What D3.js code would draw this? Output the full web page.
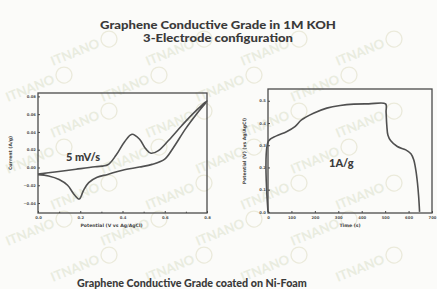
<!DOCTYPE html>
<html>
<head>
<meta charset="utf-8">
<script src="https://cdn.jsdelivr.net/npm/d3@7"></script>
<style>
    body { margin: 0; background: #fbfbf9; }
    svg { display: block; }
</style>
</head>
<body>
<div id="chart"></div>
<script>
/* Chart data. */
const cvPotential = [0.0, 0.08, 0.18, 0.27, 0.33, 0.37, 0.41, 0.445, 0.48, 0.51, 0.535, 0.57, 0.62, 0.68, 0.74, 0.8,
    0.76, 0.7, 0.64, 0.6, 0.54, 0.48, 0.4, 0.33, 0.28, 0.24, 0.215, 0.195, 0.17, 0.14, 0.1, 0.05, 0.0];
const cvCurrent = [-0.0075, -0.005, -0.002, 0.0008, 0.003, 0.014, 0.029, 0.0374, 0.032, 0.021, 0.016, 0.019, 0.031, 0.047, 0.062, 0.0748,
    0.063, 0.044, 0.022, 0.0095, 0.0035, 0.0005, -0.003, -0.0078, -0.011, -0.017, -0.026, -0.0355, -0.03, -0.02, -0.0135, -0.0095, -0.008];
const gcdTime = [0, 2, 36, 79, 115, 143, 194, 251, 308, 366, 430, 502, 504, 507, 512, 524, 552, 588, 610, 622, 631, 638, 643, 647];
const gcdVolt = [0.0, 0.319, 0.342, 0.361, 0.384, 0.414, 0.444, 0.467, 0.479, 0.485, 0.486, 0.486, 0.45, 0.39, 0.345, 0.32, 0.294, 0.279, 0.262, 0.235, 0.188, 0.13, 0.07, 0.0];

const cvTicksX = [0.0, 0.2, 0.4, 0.6, 0.8];
const cvMinorX = [0.1, 0.3, 0.5, 0.7];
const cvTicksY = [-0.04, -0.02, 0.00, 0.02, 0.04, 0.06, 0.08];
const gcdTicksX = [0, 100, 200, 300, 400, 500, 600, 700];
const gcdMinorX = [];
const gcdTicksY = [0.0, 0.1, 0.2, 0.3, 0.4, 0.5];

const titleLines = ['Graphene Conductive Grade in 1M KOH', '3-Electrode configuration', 'Graphene Conductive Grade coated on Ni-Foam'];

const W = 437, H = 289;
const ink = '#4a4a4a';

const svg = d3.select('#chart').append('svg')
    .attr('width', W)
    .attr('height', H);

svg.append('rect').attr('width', W).attr('height', H).attr('fill', '#fbfbf9');

// Watermark grid, only the marks that sit fully inside the picture.
const wm = svg.append('g').attr('fill', '#e9ecdf').attr('font-family', 'Lato, sans-serif')
    .attr('font-weight', 700).attr('font-size', 13);
for (let r = 0; r < 8; r++) {
    for (let c = 0; c < 6; c++) {
        const cx = c * 95 + (r % 2 ? 45 : 0) + 8;
        const cy = r * 36 + 30;
        const g = wm.append('g').attr('transform', 'translate(' + cx + ',' + cy + ') rotate(-22)');
        g.append('text').text('ITNANO');
        g.append('circle').attr('cx', 62).attr('cy', -4).attr('r', 8)
            .attr('fill', 'none').attr('stroke', '#ebeadb').attr('stroke-width', 1.3);
        const b = g.node().getBoundingClientRect();
        if (b.left < 1 || b.top < 1 || b.right > W - 1 || b.bottom > H - 1) g.remove();
    }
}

// Titles, stretched sideways to the width of the wide original face.
const titlePos = [{x: 218, y: 28.5, w: 236}, {x: 218, y: 42, w: 150}, {x: 192, y: 287, w: 230}];
const titles = svg.append('g').attr('font-family', 'Lato, sans-serif').attr('font-weight', 900)
    .attr('fill', '#3a3a3a').attr('text-anchor', 'middle').attr('font-size', 11);
titleLines.forEach(function (line, i) {
    const t = titles.append('text').text(line);
    const k = titlePos[i].w / t.node().getComputedTextLength();
    t.attr('transform', 'translate(' + titlePos[i].x + ',' + titlePos[i].y + ') scale(' + k + ',1)');
});

function panel(opts) {
    const g = svg.append('g');
    const x = d3.scaleLinear().domain(opts.xDomain).range([opts.left, opts.right]);
    const y = d3.scaleLinear().domain(opts.yDomain).range([opts.bottom, opts.top]);

    // Axes.
    const xAxis = g.append('g').attr('transform', 'translate(0,' + opts.bottom + ')')
        .call(d3.axisBottom(x).tickValues(opts.xTicks).tickSize(-2).tickFormat(opts.xFormat));
    const xMinor = g.append('g').attr('transform', 'translate(0,' + opts.bottom + ')')
        .call(d3.axisBottom(x).tickValues(opts.xMinor).tickSize(-1.3).tickFormat(''));
    const yAxis = g.append('g').attr('transform', 'translate(' + opts.left + ',0)')
        .call(d3.axisLeft(y).tickValues(opts.yTicks).tickSize(-2).tickFormat(opts.yFormat));
    for (const a of [xAxis, xMinor, yAxis]) {
        a.select('.domain').remove();
        a.selectAll('line').attr('stroke', ink).attr('stroke-width', 1);
        a.selectAll('text').attr('font-size', 3.8).attr('font-family', 'DejaVu Sans, sans-serif')
            .attr('fill', '#555').attr('font-weight', 700);
    }
    xAxis.selectAll('text').attr('y', 3).attr('dy', '0.71em');
    yAxis.selectAll('text').attr('x', -2);

    // Frame.
    g.append('rect')
        .attr('x', opts.left).attr('y', opts.top)
        .attr('width', opts.right - opts.left).attr('height', opts.bottom - opts.top)
        .attr('fill', 'none').attr('stroke', ink).attr('stroke-width', 1.3);

    // Curve.
    g.append('path')
        .datum(d3.range(opts.xs.length))
        .attr('fill', 'none').attr('stroke', '#505050').attr('stroke-width', 1.6)
        .attr('d', d3.line().curve(d3.curveCatmullRom.alpha(0.5))
            .x(i => x(opts.xs[i])).y(i => y(opts.ys[i])));

    // Axis titles.
    g.append('text').attr('x', (opts.left + opts.right) / 2 + opts.xLabelShift).attr('y', opts.bottom + 14)
        .attr('text-anchor', 'middle').attr('font-size', 4.6).attr('font-weight', 700)
        .attr('font-family', 'DejaVu Sans, sans-serif').attr('fill', '#444').text(opts.xLabel);
    g.append('text').attr('transform', 'translate(' + opts.yLabelX + ',' + (opts.top + opts.bottom) / 2 + ') rotate(-90)')
        .attr('text-anchor', 'middle').attr('font-size', 4.6).attr('font-weight', 700)
        .attr('font-family', 'DejaVu Sans, sans-serif').attr('fill', '#444').text(opts.yLabel);

    // Inner annotation.
    g.append('text').attr('x', opts.noteX).attr('y', opts.noteY)
        .attr('font-family', 'Lato, sans-serif').attr('font-weight', 900).attr('font-size', 11)
        .attr('fill', '#3a3a3a').text(opts.note);
}

panel({
    left: 38, right: 207, top: 93, bottom: 213,
    xDomain: [0, 0.8], yDomain: [-0.0512, 0.0838],
    xTicks: cvTicksX, xMinor: cvMinorX, yTicks: cvTicksY,
    xFormat: d3.format('.1f'), yFormat: d3.format('.2f'),
    xs: cvPotential, ys: cvCurrent,
    xLabel: 'Potential (V vs Ag/AgCl)', xLabelShift: -11,
    yLabel: 'Current (A/g)', yLabelX: 12,
    note: '5 mV/s', noteX: 66, noteY: 161
});

panel({
    left: 268, right: 432, top: 89, bottom: 213,
    xDomain: [0, 700], yDomain: [-0.005, 0.553],
    xTicks: gcdTicksX, xMinor: gcdMinorX, yTicks: gcdTicksY,
    xFormat: d3.format('d'), yFormat: d3.format('.1f'),
    xs: gcdTime, ys: gcdVolt,
    xLabel: 'Time (s)', xLabelShift: 0,
    yLabel: 'Potential (V) (vs Ag/AgCl)', yLabelX: 246,
    note: '1A/g', noteX: 329, noteY: 167
});
</script>
</body>
</html>
